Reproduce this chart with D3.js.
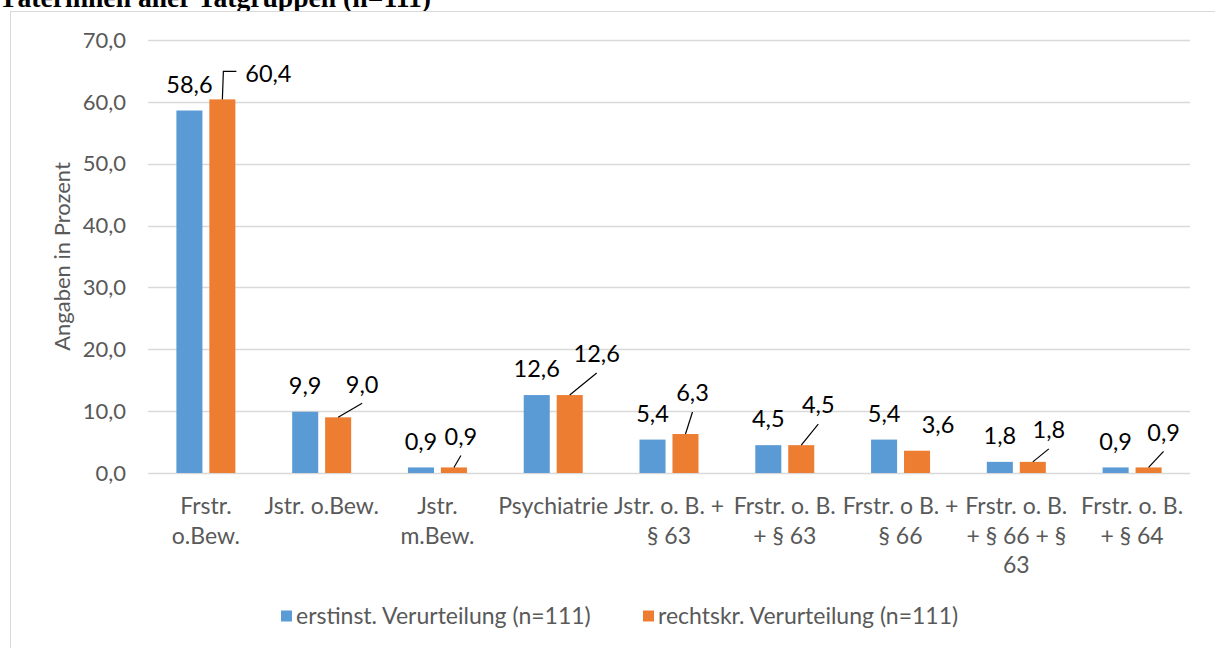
<!DOCTYPE html>
<html lang="de">
<head>
<meta charset="UTF-8">
<title>Verurteilungen</title>
<script src="https://cdn.jsdelivr.net/npm/d3@7"></script>
<style>
    body { margin: 0; background: #fff; }
    svg { display: block; font-family: Lato, "Open Sans", sans-serif; }
</style>
</head>
<body>
<script>
    // values
    const categories = [
        ["Frstr.", "o.Bew."],
        ["Jstr. o.Bew."],
        ["Jstr.", "m.Bew."],
        ["Psychiatrie"],
        ["Jstr. o. B. +", "§ 63"],
        ["Frstr. o. B.", "+ § 63"],
        ["Frstr. o B. +", "§ 66"],
        ["Frstr. o. B.", "+ § 66 + §", "63"],
        ["Frstr. o. B.", "+ § 64"]
    ];
    const erstinst = [58.6, 9.9, 0.9, 12.6, 5.4, 4.5, 5.4, 1.8, 0.9];
    const rechtskr = [60.4, 9.0, 0.9, 12.6, 6.3, 4.5, 3.6, 1.8, 0.9];
    const seriesNames = ["erstinst. Verurteilung (n=111)", "rechtskr. Verurteilung (n=111)"];
    const yTicks = [0, 10, 20, 30, 40, 50, 60, 70];

    // label nudges for the orange series (pixels), like the dragged labels in the original
    const orangeNudge = [[46, -26], [24, -33], [7, -31], [27, -41], [7, -41], [17, -40], [21, -26], [16, -32], [15, -35]];
    const orangeLeader = [true, true, true, true, true, true, false, true, true];

    const width = 1215, height = 648;
    const colors = ["#5B9BD5", "#ED7D31"];
    const fmt = v => d3.format(".1f")(v).replace(".", ",");

    const svg = d3.select("body").append("svg").attr("width", width).attr("height", height);

    // cut-off heading from the document above the chart
    svg.append("text")
        .attr("x", -1).attr("y", 7)
        .attr("font-family", "Liberation Serif, serif")
        .attr("font-weight", "bold")
        .attr("font-size", 28)
        .attr("textLength", 432).attr("lengthAdjust", "spacingAndGlyphs")
        .text("Täterinnen aller Tatgruppen (n=111)");

    // chart frame
    svg.append("rect")
        .attr("x", 10.5).attr("y", 11.5)
        .attr("width", 1230).attr("height", 700)
        .attr("fill", "#fff").attr("stroke", "#d9d9d9");

    const x0 = d3.scaleBand().domain(d3.range(categories.length)).range([148, 1190]);
    const x1 = d3.scaleBand().domain([0, 1])
        .range([x0.bandwidth() / 2 - 29.5, x0.bandwidth() / 2 + 29.5])
        .paddingInner(0.21);
    const y = d3.scaleLinear().domain([0, 70]).range([473, 40]);

    // gridlines
    svg.append("g").selectAll("line").data(yTicks).join("line")
        .attr("x1", 148).attr("x2", 1190)
        .attr("y1", d => Math.round(y(d)) + 0.5).attr("y2", d => Math.round(y(d)) + 0.5)
        .attr("stroke", "#d9d9d9").attr("stroke-width", 1.5);

    // y tick labels
    svg.append("g").selectAll("text").data(yTicks).join("text")
        .attr("x", 126).attr("y", d => y(d))
        .attr("dy", "0.35em")
        .attr("text-anchor", "end")
        .attr("font-size", 22).attr("fill", "#595959")
        .text(fmt);

    svg.append("text")
        .attr("transform", `translate(62,${y(35)}) rotate(-90)`)
        .attr("text-anchor", "middle").attr("dy", "0.35em")
        .attr("font-size", 22).attr("fill", "#595959")
        .text("Angaben in Prozent");

    const rows = categories.map((c, i) => ({ i, vals: [erstinst[i], rechtskr[i]] }));

    const groups = svg.append("g").selectAll("g").data(rows).join("g")
        .attr("transform", d => `translate(${x0(d.i)},0)`);

    groups.selectAll("rect").data(d => d.vals.map((v, s) => ({ v, s }))).join("rect")
        .attr("x", d => x1(d.s)).attr("width", x1.bandwidth())
        .attr("y", d => y(d.v)).attr("height", d => y(0) - y(d.v))
        .attr("fill", d => colors[d.s]);

    // data labels, blue centred above, orange nudged with leader lines
    groups.each(function (d) {
        const g = d3.select(this);
        const bx = x1(0) + x1.bandwidth() / 2;
        g.append("text")
            .attr("x", bx).attr("y", y(d.vals[0]) - 26).attr("dy", "0.35em")
            .attr("text-anchor", "middle").attr("font-size", 23.5).attr("fill", "#000")
            .text(fmt(d.vals[0]));

        const ox = x1(1) + x1.bandwidth() / 2;
        const oy = y(d.vals[1]);
        const [dx, dy] = orangeNudge[d.i];
        const lx = ox + dx, ly = oy + dy;
        g.append("text")
            .attr("x", lx).attr("y", ly).attr("dy", "0.35em")
            .attr("text-anchor", "middle").attr("font-size", 23.5).attr("fill", "#000")
            .text(fmt(d.vals[1]));
        if (orangeLeader[d.i]) {
            let pts;
            if (dx > 35) {
                pts = [[ox, oy], [ox + 1, ly - 2], [lx - 32, ly - 2]];
            } else {
                pts = [[ox, oy], [lx, ly + 19]];
            }
            g.append("path")
                .attr("d", d3.line()(pts))
                .attr("fill", "none").attr("stroke", "#000").attr("stroke-width", 1.2);
        }
    });

    // category labels
    groups.append("text")
        .attr("text-anchor", "middle").attr("font-size", 23).attr("fill", "#595959")
        .selectAll("tspan").data(d => categories[d.i]).join("tspan")
        .attr("x", x0.bandwidth() / 2)
        .attr("y", (t, k) => 506 + k * 29.5).attr("dy", "0.35em")
        .text(t => t);

    // legend
    const legendX = [281, 643];
    const legend = svg.append("g").selectAll("g").data(seriesNames).join("g")
        .attr("transform", (d, i) => `translate(${legendX[i]},616)`);
    legend.append("rect").attr("x", 0).attr("y", -5.5).attr("width", 11).attr("height", 11)
        .attr("fill", (d, i) => colors[i]);
    legend.append("text").attr("x", 15).attr("dy", "0.35em")
        .attr("font-size", 23).attr("fill", "#595959")
        .text(d => d);
</script>
</body>
</html>
